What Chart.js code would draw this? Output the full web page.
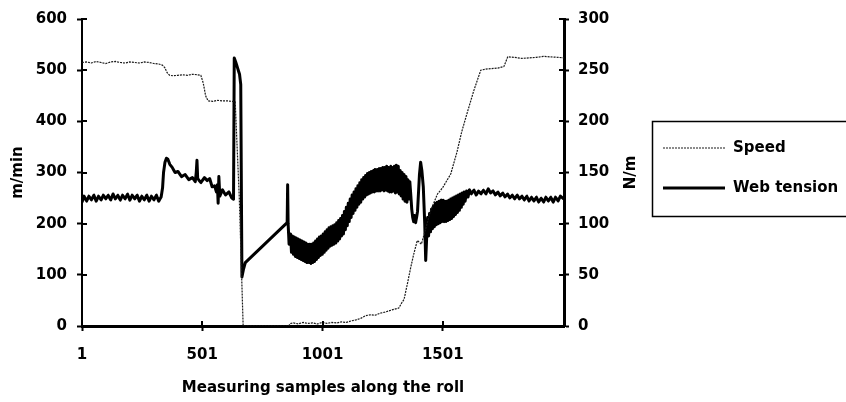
<!DOCTYPE html>
<html>
<head>
<meta charset="utf-8">
<script src="https://cdn.jsdelivr.net/npm/chart.js@4.4.0/dist/chart.umd.min.js"></script>
<style>
  html, body { margin: 0; padding: 0; background: #fff; }
  #wrap { width: 846px; height: 402px; }
</style>
</head>
<body>
<div id="wrap"><canvas id="rollChart" width="846" height="402"></canvas></div>
<script>
const SERIES = ["Speed", "Web tension"];
const X_TICKS = [1, 501, 1001, 1501];
const X_TITLE = "Measuring samples along the roll";
const LEFT_TITLE = "m/min";
const RIGHT_TITLE = "N/m";

// [sample, m/min]
const speedData = [
  [1,515],[20,516],[40,514],[60,517],[80,515],[100,513],[120,516],[140,517],[160,515],[180,514],
  [200,516],[220,515],[240,514],[260,516],[280,515],[300,513],[320,512],[335,510],[345,505],[355,495],
  [365,490],[380,489],[400,490],[420,491],[440,490],[460,492],[480,491],[495,490],[505,475],[515,450],
  [525,440],[545,439],[565,441],[585,440],[605,440],[625,439],[638,438],[655,250],[671,0],[860,0],
  [868,5],[880,6],[900,4],[920,7],[940,5],[960,6],[980,4],[1000,7],[1020,5],[1040,7],
  [1060,6],[1080,8],[1100,7],[1120,10],[1140,12],[1160,15],[1180,20],[1200,22],[1220,21],[1240,25],
  [1260,27],[1280,30],[1300,33],[1318,35],[1330,45],[1340,52],[1355,85],[1368,115],[1380,140],[1395,167],
  [1405,163],[1412,160],[1430,190],[1450,225],[1479,258],[1500,270],[1534,297],[1560,340],[1580,380],[1604,419],
  [1630,460],[1659,500],[1680,502],[1700,503],[1730,504],[1755,507],[1771,526],[1800,525],[1830,523],[1860,524],
  [1890,525],[1920,527],[1950,526],[1980,525],[2005,524]
];

// [sample, N/m]
const tensionData = [
  [1,121],[10,127],[20,122],[30,127],[40,123],[50,128],[60,122],[70,127],[80,123],[90,128],
  [100,124],[110,128],[120,123],[130,129],[140,124],[150,128],[160,123],[170,128],[180,124],[190,129],
  [200,123],[210,128],[220,124],[230,128],[240,122],[250,127],[260,123],[270,128],[280,122],[290,127],
  [300,123],[310,128],[320,122],[330,126],[336,135],[340,150],[346,160],[352,164],[358,163],[366,158],
  [376,155],[388,150],[400,151],[415,146],[430,148],[445,143],[460,145],[472,141],[476,150],[479,162],
  [482,144],[495,140],[510,145],[522,142],[532,144],[542,136],[552,137],[560,131],[564,138],[567,120],
  [570,146],[574,127],[585,133],[598,128],[612,131],[624,125],[631,124],[634,262],[640,258],[648,252],
  [656,246],[661,236],[664,120],[666,48],[672,55],[680,62],[854,101],[856,138],[858,100],[862,80],
  [868,90],[872,72],[876,88],[880,70],[884,87],[888,68],[892,86],[896,67],[900,85],[904,66],
  [908,84],[912,65],[916,83],[920,64],[924,82],[928,63],[932,81],[936,62],[940,80],[944,62],
  [948,80],[952,61],[956,80],[960,62],[964,81],[968,63],[972,83],[976,65],[980,85],[984,67],
  [988,87],[992,69],[996,88],[1000,70],[1004,90],[1008,72],[1012,92],[1016,74],[1020,94],[1024,76],
  [1028,96],[1032,78],[1036,97],[1040,79],[1044,98],[1048,80],[1052,99],[1056,81],[1060,101],[1064,83],
  [1068,103],[1072,85],[1076,105],[1080,88],[1084,108],[1088,90],[1092,112],[1096,94],[1100,116],[1104,98],
  [1108,120],[1112,102],[1116,124],[1120,106],[1124,128],[1128,110],[1132,131],[1136,113],[1140,134],[1144,116],
  [1148,137],[1152,119],[1156,140],[1160,121],[1164,143],[1168,124],[1172,145],[1176,126],[1180,147],[1184,128],
  [1188,149],[1192,129],[1196,150],[1200,130],[1204,151],[1208,131],[1212,152],[1216,131],[1220,153],[1224,132],
  [1228,153],[1232,132],[1236,154],[1240,132],[1244,154],[1248,133],[1252,155],[1256,132],[1260,155],[1264,133],
  [1268,156],[1272,132],[1276,155],[1280,131],[1284,156],[1288,131],[1292,155],[1296,132],[1300,156],[1304,130],
  [1308,157],[1312,131],[1316,156],[1320,129],[1324,152],[1328,127],[1332,150],[1336,124],[1340,148],[1344,122],
  [1348,146],[1352,121],[1356,143],[1360,124],[1364,141],[1368,128],[1372,114],[1376,106],[1380,102],[1384,108],
  [1388,101],[1392,106],[1396,112],[1400,130],[1404,148],[1409,160],[1414,152],[1420,136],[1426,100],[1430,64],
  [1434,86],[1438,106],[1442,88],[1446,110],[1450,92],[1454,114],[1458,95],[1462,117],[1466,97],[1470,120],
  [1474,99],[1478,121],[1482,100],[1486,122],[1490,101],[1494,123],[1498,102],[1502,123],[1506,102],[1510,122],
  [1514,102],[1518,122],[1522,103],[1526,123],[1530,104],[1534,124],[1538,105],[1542,125],[1546,107],[1550,126],
  [1554,109],[1558,127],[1562,111],[1566,128],[1570,113],[1574,129],[1578,116],[1582,130],[1586,119],[1590,131],
  [1594,122],[1600,132],[1606,126],[1612,133],[1620,129],[1630,133],[1640,128],[1650,132],[1660,129],[1670,133],
  [1680,129],[1690,134],[1700,130],[1710,132],[1720,128],[1730,131],[1740,127],[1750,130],[1760,126],[1770,129],
  [1780,125],[1790,128],[1800,124],[1810,128],[1820,124],[1830,127],[1840,123],[1850,127],[1860,122],[1870,126],
  [1880,122],[1890,126],[1900,121],[1910,125],[1920,121],[1930,126],[1940,122],[1950,126],[1960,121],[1970,126],
  [1980,122],[1990,127],[2005,124]
];

const FONT = { family: "'DejaVu Sans', sans-serif", size: 15, weight: 'bold' };
Chart.defaults.font.family = FONT.family;
Chart.defaults.font.size = FONT.size;
Chart.defaults.font.weight = FONT.weight;
Chart.defaults.color = '#000';

const toPoints = arr => arr.map(p => ({ x: p[0], y: p[1] }));

// tick marks that cross the axis: inner half drawn here
const innerTicks = {
  id: 'innerTicks',
  afterDatasetsDraw(chart) {
    const { ctx, chartArea, scales } = chart;
    ctx.save();
    ctx.strokeStyle = '#000';
    ctx.lineWidth = 2;
    ctx.beginPath();
    scales.x.ticks.forEach(t => {
      const px = Math.round(scales.x.getPixelForValue(t.value));
      ctx.moveTo(px, chartArea.bottom);
      ctx.lineTo(px, chartArea.bottom - 5);
    });
    scales.yL.ticks.forEach(t => {
      const py = Math.round(scales.yL.getPixelForValue(t.value));
      ctx.moveTo(chartArea.left, py);
      ctx.lineTo(chartArea.left + 5, py);
    });
    scales.yR.ticks.forEach(t => {
      const py = Math.round(scales.yR.getPixelForValue(t.value));
      ctx.moveTo(chartArea.right, py);
      ctx.lineTo(chartArea.right - 5, py);
    });
    ctx.stroke();
    ctx.restore();
  }
};

// boxed legend on the right + right axis title (reads bottom to top)
const sideLegend = {
  id: 'sideLegend',
  afterDraw(chart) {
    const { ctx, chartArea } = chart;
    ctx.save();
    ctx.fillStyle = '#000';
    ctx.font = `${FONT.weight} ${FONT.size}px ${FONT.family}`;
    ctx.textAlign = 'center';
    ctx.textBaseline = 'middle';
    ctx.translate(631, (chartArea.top + chartArea.bottom) / 2);
    ctx.rotate(-Math.PI / 2);
    ctx.fillText(RIGHT_TITLE, 0, 0);
    ctx.restore();

    ctx.save();
    ctx.strokeStyle = '#000';
    ctx.lineWidth = 1.5;
    ctx.strokeRect(652.5, 121.5, 220, 95);
    ctx.font = `${FONT.weight} ${FONT.size}px ${FONT.family}`;
    ctx.textBaseline = 'middle';
    ctx.fillStyle = '#000';
    const rows = [148, 188];
    chart.data.datasets.forEach((ds, i) => {
      const y = rows[i];
      ctx.beginPath();
      ctx.setLineDash(ds.borderDash || []);
      ctx.strokeStyle = ds.borderColor;
      ctx.lineWidth = ds.borderWidth;
      ctx.moveTo(663, y);
      ctx.lineTo(725, y);
      ctx.stroke();
      ctx.setLineDash([]);
      ctx.fillText(ds.label, 733, y);
    });
    ctx.restore();
  }
};

const axisGrid = { drawOnChartArea: false, drawTicks: true, tickLength: 5, tickWidth: 2, color: '#000' };

const chart = new Chart(document.getElementById('rollChart').getContext('2d'), {
  type: 'line',
  data: {
    datasets: [
      {
        label: SERIES[0],
        data: toPoints(speedData),
        yAxisID: 'yL',
        borderColor: '#1a1a1a',
        borderWidth: 1.2,
        borderDash: [2, 1],
        pointRadius: 0
      },
      {
        label: SERIES[1],
        data: toPoints(tensionData),
        yAxisID: 'yR',
        borderColor: '#000',
        borderWidth: 3,
        borderJoinStyle: 'round',
        tension: 0.0001, // forces the full path (no per-pixel min/max collapsing)
        pointRadius: 0
      }
    ]
  },
  options: {
    responsive: false,
    animation: false,
    events: [],
    layout: { padding: { top: 17, left: 0, right: 222, bottom: 0 } },
    plugins: { legend: { display: false }, tooltip: { enabled: false } },
    scales: {
      x: {
        type: 'linear',
        min: 1,
        max: 2005,
        afterBuildTicks: s => { s.ticks = X_TICKS.map(v => ({ value: v })); },
        afterFit: s => { s.height = 76; },
        grid: axisGrid,
        border: { display: true, color: '#000', width: 3 },
        ticks: { padding: 15, maxRotation: 0, autoSkip: false, callback: v => String(v) },
        title: { display: true, text: X_TITLE, padding: { top: 0, bottom: 5 } }
      },
      yL: {
        position: 'left',
        min: 0,
        max: 600,
        afterFit: s => { s.width = 82; },
        grid: axisGrid,
        border: { display: true, color: '#000', width: 2 },
        ticks: { stepSize: 100, padding: 10, callback: v => String(v) },
        title: { display: true, text: LEFT_TITLE, padding: { top: 9, bottom: 0 } }
      },
      yR: {
        position: 'right',
        min: 0,
        max: 300,
        afterFit: s => { s.width = 60; },
        grid: axisGrid,
        border: { display: true, color: '#000', width: 3 },
        ticks: { stepSize: 50, padding: 9, callback: v => String(v) }
      }
    }
  },
  plugins: [innerTicks, sideLegend]
});
</script>
</body>
</html>
